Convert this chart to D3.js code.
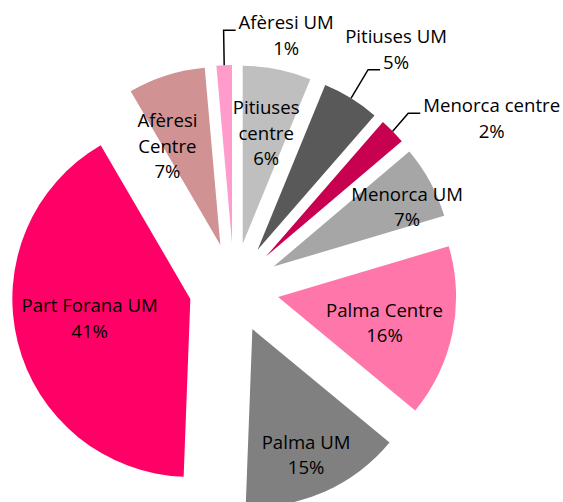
<!DOCTYPE html>
<html>
<head>
<meta charset="utf-8">
<script src="https://cdn.jsdelivr.net/npm/d3@7"></script>
<style>
  html, body { margin: 0; padding: 0; background: #fff; }
  svg { display: block; }
  text { font-family: "Open Sans", sans-serif; font-size: 18.6px; fill: #000; }
</style>
</head>
<body>
<div id="chart"></div>
<script>
// data, clockwise from 12 o'clock
const categories = ['Pitiuses\ncentre', 'Pitiuses UM', 'Menorca centre', 'Menorca UM',
  'Palma Centre', 'Palma UM', 'Part Forana UM', 'Afèresi\nCentre', 'Afèresi UM'];
const values = [6.2, 5.2, 2.4, 6.6, 15.6, 14.6, 41.0, 7.0, 1.4];
const colors = ['#bfbfbf', '#595959', '#c70050', '#a6a6a6',
  '#ff77aa', '#808080', '#ff0066', '#d09292', '#ff9ccb'];

// label layout: offset from the middle of the slice's outer arc,
// leader = which text line the leader line points at (null = no leader)
const labelOffsets = [[-11, 45], [45, -55], [99, -19], [-23, 19],
  [-68, -16], [-19, -43], [72, -30], [1, 52], [62, -36]];
const leaders = [null, 1, 0, null, null, null, null, null, 0];

const width = 563;
const height = 502;
const cx = 234, cy = 288;
const radius = 178;
const explode = 45;
const lineHeight = 25.5;

const svg = d3.select('#chart').append('svg')
  .attr('width', width)
  .attr('height', height);

const pie = d3.pie().sort(null).value(d => d);
const arcs = pie(values);
const arc = d3.arc().innerRadius(0).outerRadius(radius);
const total = d3.sum(values);
const fmt = d3.format('.0%');

const dir = a => [Math.sin(a), -Math.cos(a)];

const slices = svg.selectAll('g.slice')
  .data(arcs)
  .enter()
  .append('g')
  .attr('class', 'slice')
  .attr('transform', d => {
    const [ux, uy] = dir((d.startAngle + d.endAngle) / 2);
    return `translate(${cx + explode * ux},${cy + explode * uy})`;
  });

slices.append('path')
  .attr('d', arc)
  .attr('fill', (d, i) => colors[i]);

// labels
arcs.forEach((d, i) => {
  const mid = (d.startAngle + d.endAngle) / 2;
  const [ux, uy] = dir(mid);
  // outer arc midpoint of the exploded slice
  const ox = cx + (explode + radius) * ux;
  const oy = cy + (explode + radius) * uy;
  const lx = ox + labelOffsets[i][0];
  const ly = oy + labelOffsets[i][1];

  const lines = categories[i].split('\n').concat([fmt(d.value / total)]);
  const t = svg.append('text')
    .attr('text-anchor', 'middle');
  const spans = t.selectAll('tspan')
    .data(lines)
    .enter()
    .append('tspan')
    .attr('x', lx)
    .attr('y', (s, j) => ly + j * lineHeight)
    .text(s => s);

  if (leaders[i] !== null) {
    const k = leaders[i];
    const node = spans.nodes()[k];
    const w = node.getComputedTextLength();
    const ex = lx - w / 2 - 3;
    const ey = ly + k * lineHeight + 1;
    svg.append('path')
      .attr('d', d3.line()([[ox, oy], [ex - 12, ey], [ex, ey]]))
      .attr('fill', 'none')
      .attr('stroke', '#000')
      .attr('stroke-width', 1.5);
  }
});
</script>
</body>
</html>
